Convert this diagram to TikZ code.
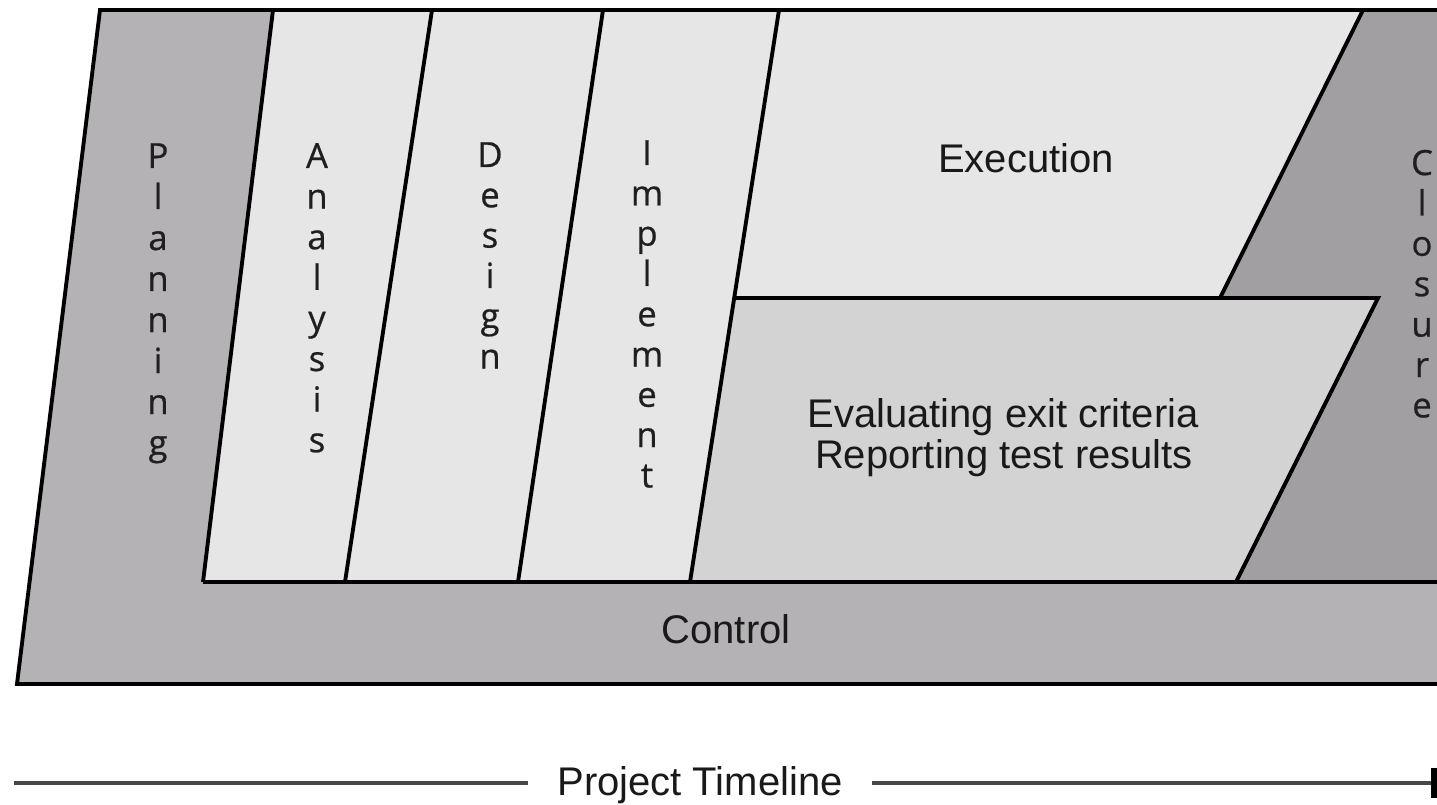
\documentclass[tikz,border=0pt]{standalone}
\usepackage{fontspec}
\setmainfont{Liberation Sans}
\newfontfamily\stackfont[FakeBold=0.6]{Open Sans}
\definecolor{planfill}{HTML}{B5B2B6}
\definecolor{phasefill}{HTML}{E6E6E6}
\definecolor{evalfill}{HTML}{D3D3D3}
\definecolor{closefill}{HTML}{A29FA3}
\begin{document}
\begin{tikzpicture}[x=0.75pt,y=-0.75pt,
  outline/.style={draw=black,line width=2.9pt,line join=miter},
  phasetext/.style={font=\fontsize{30}{32}\selectfont,text=black!90,inner sep=0pt,anchor=base},
  vletter/.style={font=\stackfont\fontsize{26}{26}\selectfont,text=black!88,inner sep=0pt,anchor=base},
  timeline/.style={draw=black!72,line width=2.4pt},
]
\useasboundingbox (0,0) rectangle (1437,805);

\begin{scope}
\clip (0,0) rectangle (1437,805);
% planning / control band
\fill[planfill] (100,10) -- (1460,10) -- (1460,684) -- (17,684) -- cycle;
% analysis, design, implement and execution
\fill[phasefill] (273,10) -- (1363,10) -- (1220,298) -- (735,298) -- (690,582) -- (203,582) -- cycle;
% evaluating exit criteria box
\fill[evalfill] (735,298) -- (1378,298) -- (1236,582) -- (690,582) -- cycle;
% closure
\fill[closefill] (1363,10) -- (1460,10) -- (1460,582) -- (1236,582) -- (1378,298) -- (1220,298) -- cycle;

% outlines
\draw[outline] (1460,10) -- (100,10) -- (17,684) -- (1460,684);
\draw[outline] (203,582) -- (1460,582);
\draw[outline] (273,10) -- (203,582);
\draw[outline] (432,10) -- (345,582);
\draw[outline] (603,10) -- (518,582);
\draw[outline] (779,10) -- (690,582);
\draw[outline] (735,298) -- (1378,298) -- (1236,582);
\draw[outline] (1363,10) -- (1220,298);
\end{scope}

% vertical phase names
\foreach \ch [count=\i] in {P,l,a,n,n,i,n,g}
  \node[vletter] (plan\i) at (158,{168+41*(\i-1)}) {\ch};
\foreach \ch [count=\i] in {A,n,a,l,y,s,i,s}
  \node[vletter] (anal\i) at (317,{168+40.6*(\i-1)}) {\ch};
\foreach \ch [count=\i] in {D,e,s,i,g,n}
  \node[vletter] (desg\i) at (490,{167+40.3*(\i-1)}) {\ch};
\foreach \ch [count=\i] in {I,m,p,l,e,m,e,n,t}
  \node[vletter] (impl\i) at (647,{165+40.3*(\i-1)}) {\ch};
\foreach \ch [count=\i] in {C,l,o,s,u,r,e}
  \node[vletter] (clos\i) at (1422,{175+40.4*(\i-1)}) {\ch};

% horizontal phase names
\node[phasetext] (exec) at (1026,173) {Execution};
\node[phasetext] (eval1) at (1003,427) {Evaluating exit criteria};
\node[phasetext] (eval2) at (1004,468) {Reporting test results};
\node[phasetext] (ctrl) at (726,643) {Control};

% project timeline
\coordinate (tlL) at (14,783);
\coordinate (tlR) at (1434,783);
\node[phasetext,inner xsep=22pt] (tl) at (700,795) {Project Timeline};
\draw[timeline] (tlL) -- (tlL -| tl.west);
\draw[timeline] (tlR -| tl.east) -- (tlR);
\draw[line width=4.5pt] ([yshift=11.5pt]tlR) -- ([yshift=-11.5pt]tlR);
\end{tikzpicture}
\end{document}
